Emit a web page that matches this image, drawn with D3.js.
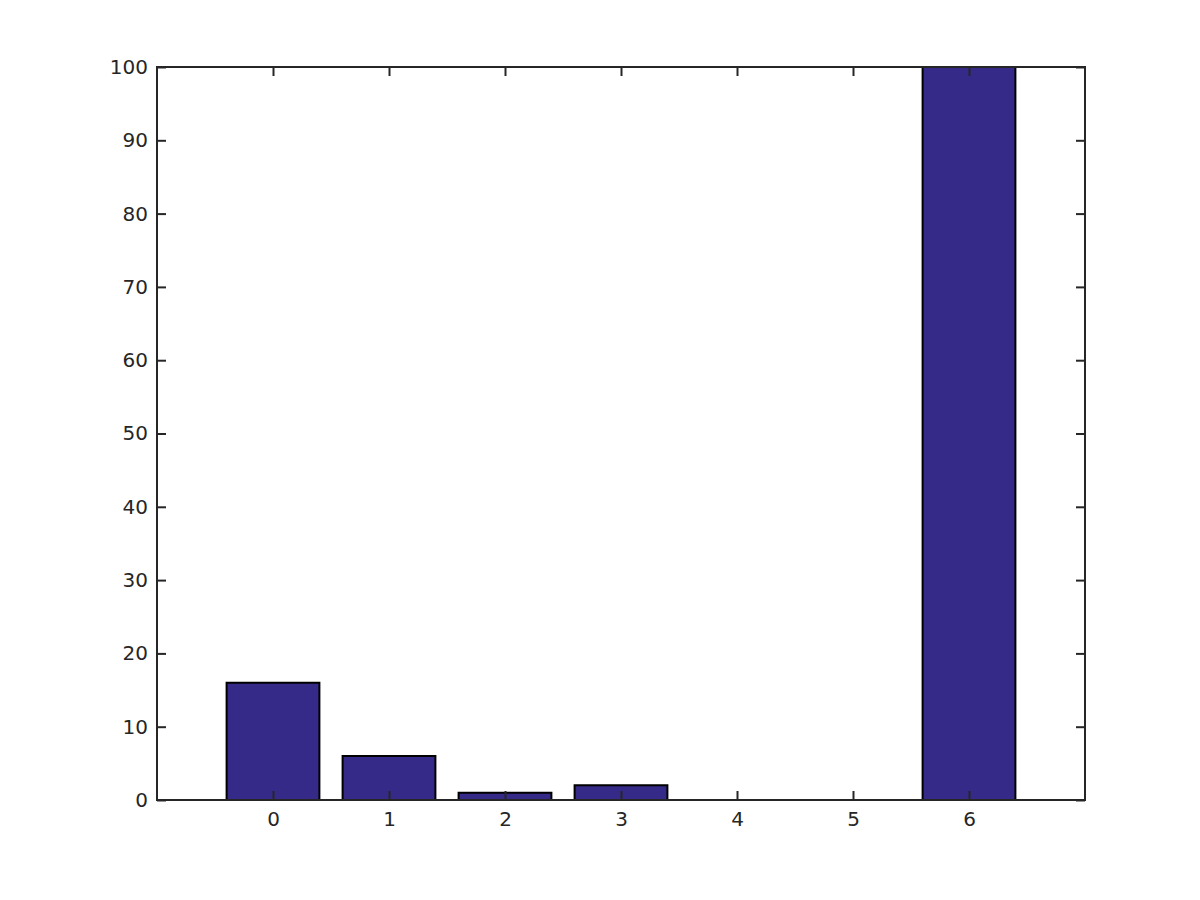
<!DOCTYPE html>
<html><head><meta charset="utf-8">
<script src="https://cdn.jsdelivr.net/npm/d3@7"></script>
<style>body{margin:0;background:#fff}svg{display:block}</style>
</head><body>
<script>
const categories = [0, 1, 2, 3, 4, 5, 6];
const values = [16, 6, 1, 2, 0, 0, 100];
const yTicks = [0, 10, 20, 30, 40, 50, 60, 70, 80, 90, 100];

const W = 1200, H = 900;
const m = {left: 157, right: 1085, top: 67, bottom: 800};
const svg = d3.select("body").append("svg").attr("width", W).attr("height", H);

const x = d3.scaleLinear().domain([-1, 7]).range([m.left, m.right]);
const y = d3.scaleLinear().domain([0, 100]).range([m.bottom, m.top]);
const bw = (x(1) - x(0)) * 0.8;

const axColor = "#262626";
const font = "'DejaVu Sans', sans-serif";

// bars (drawn as paths so zero-height bars still show their outline)
svg.append("g").selectAll("path").data(categories).join("path")
  .attr("d", (d, i) => {
    const x0 = x(d) - bw / 2, x1 = x(d) + bw / 2, y0 = y(0), y1 = y(values[i]);
    return `M${x0},${y0}L${x0},${y1}L${x1},${y1}L${x1},${y0}Z`;
  })
  .attr("fill", "#352a87")
  .attr("stroke", "#000")
  .attr("stroke-width", 2);

const tl = 9;
// axes
const gx = svg.append("g").attr("transform", `translate(0,${m.bottom})`)
  .call(d3.axisBottom(x).tickValues(categories).tickSize(-tl).tickPadding(12).tickFormat(d3.format("d")));
const gxt = svg.append("g").attr("transform", `translate(0,${m.top})`)
  .call(d3.axisTop(x).tickValues(categories).tickSize(-tl).tickFormat(""));
const gy = svg.append("g").attr("transform", `translate(${m.left},0)`)
  .call(d3.axisLeft(y).tickValues(yTicks).tickSize(-tl).tickPadding(9));
const gyr = svg.append("g").attr("transform", `translate(${m.right},0)`)
  .call(d3.axisRight(y).tickValues(yTicks).tickSize(-tl).tickFormat(""));

[gx, gxt, gy, gyr].forEach(g => {
  g.select(".domain").remove();
  g.selectAll(".tick line").attr("stroke", axColor).attr("stroke-width", 2);
  g.selectAll("text").attr("fill", axColor).style("font-family", font).style("font-size", "20px");
});

// box
svg.append("rect").attr("x", m.left).attr("y", m.top)
  .attr("width", m.right - m.left).attr("height", m.bottom - m.top)
  .attr("fill", "none").attr("stroke", axColor).attr("stroke-width", 2);
</script>
</body></html>
